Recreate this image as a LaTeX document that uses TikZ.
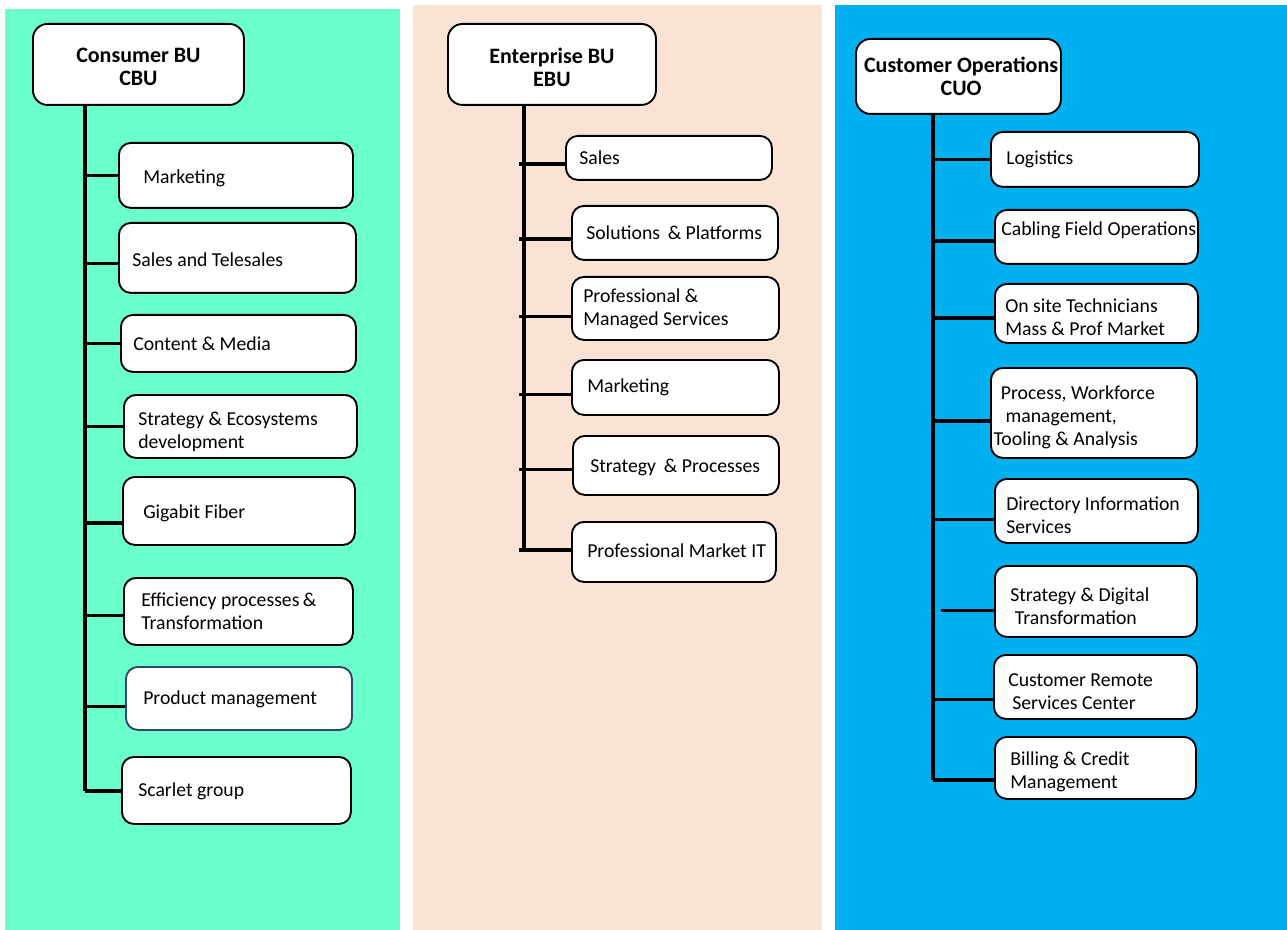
\documentclass[tikz,border=0pt]{standalone}
\usepackage{fontspec}
\setmainfont{Carlito}
\definecolor{colG}{RGB}{106,255,203}
\definecolor{colP}{RGB}{250,226,213}
\definecolor{colB}{RGB}{0,176,240}
\definecolor{colEdge}{RGB}{47,72,105}

\begin{document}
\begin{tikzpicture}[x=0.75pt,y=-0.75pt,
  wh/.style 2 args={minimum width=#1*0.75pt,minimum height=#2*0.75pt},
  headbox/.style={draw,line width=1.4pt,rounded corners=11pt,fill=white,anchor=north west,inner sep=0pt},
  headtext/.style={align=center,font=\fontsize{16.5}{17.5}\selectfont\bfseries,inner sep=0pt},
  unitbox/.style={draw,line width=1.4pt,rounded corners=9pt,fill=white,anchor=north west,inner sep=0pt},
  unittext/.style={anchor=west,align=left,font=\fontsize{14.8}{17.25}\selectfont,inner sep=0pt},
  tree/.style={line width=2.4pt}]
\useasboundingbox[fill=white] (0,0) rectangle (1287,930);
% three columns
\fill[colG] (5,9) rectangle (400,930);
\fill[colP] (413,5) rectangle (822,930);
\fill[colB] (835,5) rectangle (1287,930);

% Consumer BU
\node[headbox,wh={211}{81}] (c0) at (32,23) {};
\node[headtext] (c0t) at ([yshift=-2pt]c0.center) {Consumer BU\\CBU};
\node[unitbox,wh={234}{65}] (c1) at (118,142) {};
\node[unittext] (c1t) at ([xshift=18.75pt,yshift=-2pt]c1.west) {Marketing};
\node[unitbox,wh={237}{70}] (c2) at (118,222) {};
\node[unittext] (c2t) at ([xshift=10.5pt,yshift=-1pt]c2.west) {Sales and Telesales};
\node[unitbox,wh={235}{57}] (c3) at (120,314) {};
\node[unittext] (c3t) at ([xshift=9.75pt]c3.west) {Content \& Media};
\node[unitbox,wh={233}{63}] (c4) at (123,394) {};
\node[unittext] (c4t) at ([xshift=11.25pt,yshift=-4pt]c4.west) {Strategy \& Ecosystems\\development};
\node[unitbox,wh={232}{68}] (c5) at (122,476) {};
\node[unittext] (c5t) at ([xshift=15.75pt,yshift=-2pt]c5.west) {Gigabit Fiber};
\node[unitbox,wh={229}{67}] (c6) at (123,577) {};
\node[unittext] (c6t) at ([xshift=13.5pt]c6.west) {Efficiency processes\,\&\\Transformation};
\node[unitbox,draw=colEdge,wh={226}{63}] (c7) at (125,666) {};
\node[unittext] (c7t) at ([xshift=13.5pt,yshift=-1pt]c7.west) {Product management};
\node[unitbox,wh={229}{67}] (c8) at (121,756) {};
\node[unittext] (c8t) at ([xshift=12.75pt,yshift=-1pt]c8.west) {Scarlet group};
\coordinate (cTop) at (85,104);
\coordinate (cBot) at (85,791);
\draw[tree] (cTop) -- (cBot);
\draw[tree] (c1.west -| cTop) -- (c1.west);
\draw[tree] ([yshift=-4pt]c2.west -| cTop) -- ([yshift=-4pt]c2.west);
\draw[tree] (c3.west -| cTop) -- (c3.west);
\draw[tree] (c4.west -| cTop) -- (c4.west);
\draw[tree] ([yshift=-9pt]c5.west -| cTop) -- ([yshift=-9pt]c5.west);
\draw[tree] ([yshift=-3pt]c6.west -| cTop) -- ([yshift=-3pt]c6.west);
\draw[tree] ([yshift=-6pt]c7.west -| cTop) -- ([yshift=-6pt]c7.west);
\draw[tree] (cBot) -- (cBot -| c8.west);

% Enterprise BU
\node[headbox,wh={208}{81}] (e0) at (447,23) {};
\node[headtext] (e0t) at ([yshift=-2pt]e0.center) {Enterprise BU\\EBU};
\node[unitbox,wh={206}{44}] (e1) at (565,135) {};
\node[unittext] (e1t) at ([xshift=10.5pt]e1.west) {Sales};
\node[unitbox,wh={206}{54}] (e2) at (571,205) {};
\node[unittext] (e2t) at ([xshift=11.25pt]e2.west) {Solutions \,\& Platforms};
\node[unitbox,wh={207}{63}] (e3) at (571,276) {};
\node[unittext] (e3t) at ([xshift=9pt]e3.west) {Professional \&\\Managed Services};
\node[unitbox,wh={207}{55}] (e4) at (571,359) {};
\node[unittext] (e4t) at ([xshift=12pt]e4.west) {Marketing};
\node[unitbox,wh={206}{59}] (e5) at (572,435) {};
\node[unittext] (e5t) at ([xshift=13.5pt,yshift=-1.5pt]e5.west) {Strategy \,\& Processes};
\node[unitbox,wh={204}{60}] (e6) at (571,521) {};
\node[unittext] (e6t) at ([xshift=12pt,yshift=1pt]e6.west) {Professional Market IT};
\coordinate (eTop) at (524,104);
\coordinate (eBot) at (524,552);
\coordinate (eTick) at (519,0);
\draw[tree] (eTop) -- (eBot);
\draw[tree] ([yshift=-4.5pt]e1.west -| eTick) -- ([yshift=-4.5pt]e1.west);
\draw[tree] ([yshift=-4.5pt]e2.west -| eTick) -- ([yshift=-4.5pt]e2.west);
\draw[tree] ([yshift=-6pt]e3.west -| eTick) -- ([yshift=-6pt]e3.west);
\draw[tree] ([yshift=-5pt]e4.west -| eTick) -- ([yshift=-5pt]e4.west);
\draw[tree] ([yshift=-3pt]e5.west -| eTick) -- ([yshift=-3pt]e5.west);
\draw[tree] ([yshift=1.5pt]e6.west -| eTick) -- ([yshift=1.5pt]e6.west);

% Customer Operations
\node[headbox,wh={205}{75}] (u0) at (855,38) {};
\node[headtext] (u0t) at ([xshift=2pt]u0.center) {Customer Operations\\CUO};
\node[unitbox,wh={208}{55}] (u1) at (990,131) {};
\node[unittext] (u1t) at ([xshift=12pt]u1.west) {Logistics};
\node[unitbox,wh={203}{54}] (u2) at (994,209) {};
\node[unittext] (u2t) at ([xshift=5.25pt,yshift=5pt]u2.west) {Cabling Field Operations};
\node[unitbox,wh={203}{59}] (u3) at (994,283) {};
\node[unittext] (u3t) at ([xshift=8.25pt,yshift=-2.5pt]u3.west) {On site Technicians\\Mass \& Prof Market};
\node[unitbox,wh={206}{90}] (u4) at (990,367) {};
\node[unittext] (u4t) at ([xshift=2.5pt,yshift=-3pt]u4.west) {\hspace*{5.5pt}Process, Workforce\\\hspace*{9pt}management,\\Tooling \& Analysis};
\node[unitbox,wh={203}{64}] (u5) at (994,478) {};
\node[unittext] (u5t) at ([xshift=9pt,yshift=-3pt]u5.west) {Directory Information\\Services};
\node[unitbox,wh={202}{71}] (u6) at (994,565) {};
\node[unittext] (u6t) at ([xshift=12pt,yshift=-3.5pt]u6.west) {Strategy \& Digital\\\hspace*{3.5pt}Transformation};
\node[unitbox,wh={203}{64}] (u7) at (993,654) {};
\node[unittext] (u7t) at ([xshift=11.25pt,yshift=-3.5pt]u7.west) {Customer Remote\\\hspace*{3pt}Services Center};
\node[unitbox,wh={201}{62}] (u8) at (994,736) {};
\node[unittext] (u8t) at ([xshift=12pt,yshift=-3pt]u8.west) {Billing \& Credit\\Management};
\coordinate (uTop) at (933,113);
\coordinate (uBot) at (933,780);
\draw[tree] (uTop) -- (uBot);
\draw[tree] (u1.west -| uTop) -- (u1.west);
\draw[tree] ([yshift=-3pt]u2.west -| uTop) -- ([yshift=-3pt]u2.west);
\draw[tree] ([yshift=-3.5pt]u3.west -| uTop) -- ([yshift=-3.5pt]u3.west);
\draw[tree] ([yshift=-6pt]u4.west -| uTop) -- ([yshift=-6pt]u4.west);
\draw[tree] ([yshift=-6.5pt]u5.west -| uTop) -- ([yshift=-6.5pt]u5.west);
\draw[tree] ([yshift=-6.5pt,xshift=-40pt]u6.west) -- ([yshift=-6.5pt]u6.west);
\draw[tree] ([yshift=-9.5pt]u7.west -| uTop) -- ([yshift=-9.5pt]u7.west);
\draw[tree] (uBot) -- (uBot -| u8.west);
\end{tikzpicture}
\end{document}
